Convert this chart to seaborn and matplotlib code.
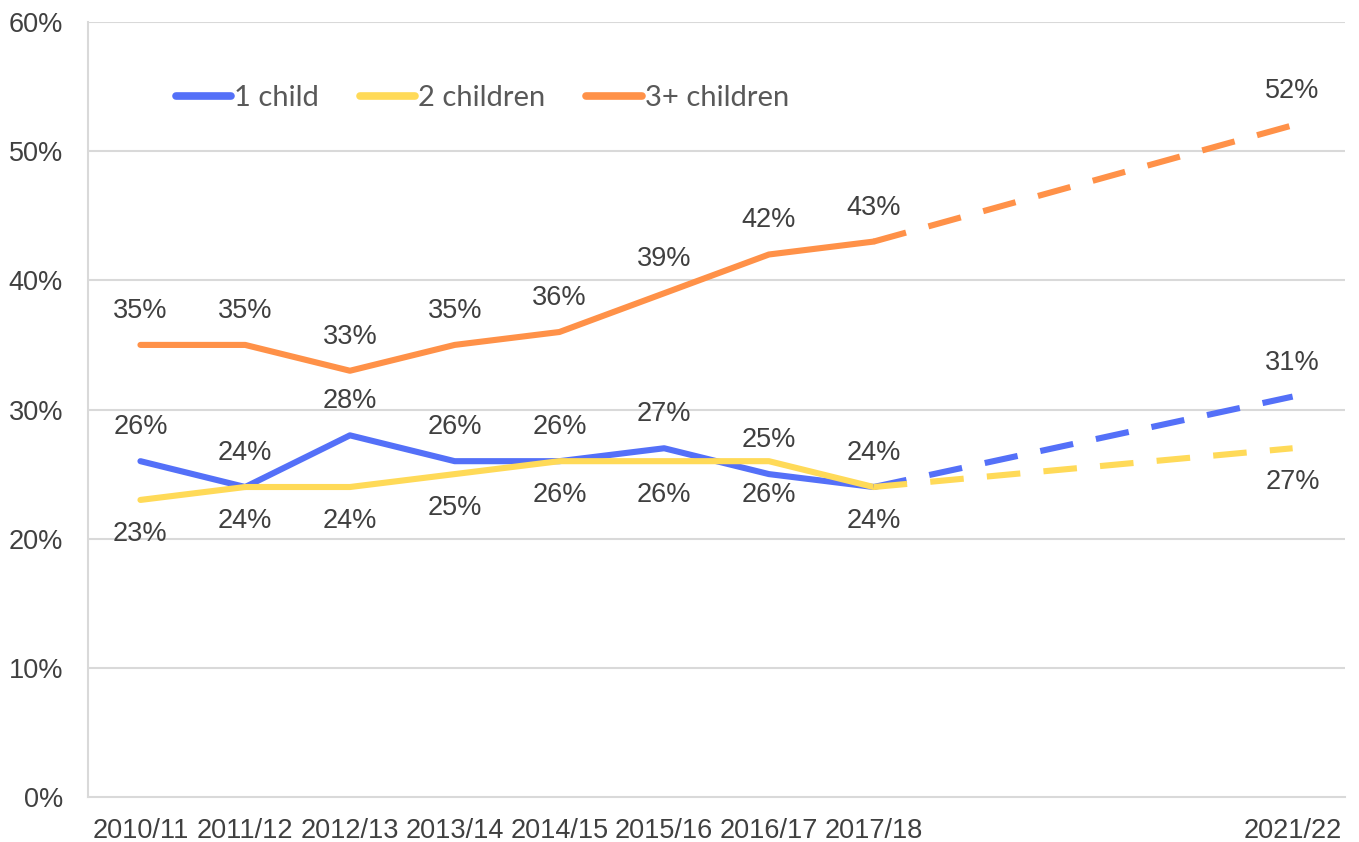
import pandas as pd
import matplotlib.pyplot as plt
import seaborn as sns

# observed years (start year of the financial year) and the projection year
years = [2010, 2011, 2012, 2013, 2014, 2015, 2016, 2017]
proj_years = [2017, 2021]

series = ["1 child", "2 children", "3+ children"]
one_child = [26, 24, 28, 26, 26, 27, 25, 24]
two_children = [23, 24, 24, 25, 26, 26, 26, 24]
three_plus = [35, 35, 33, 35, 36, 39, 42, 43]

one_child_proj = [24, 31]
two_children_proj = [24, 27]
three_plus_proj = [43, 52]

# label above (+1) or below (-1) the line
label_side = {"1 child": 1, "2 children": -1, "3+ children": 1}

palette = {"1 child": "#5470F8", "2 children": "#FFDA58", "3+ children": "#FF9148"}

obs = pd.DataFrame({
    "year": years * 3,
    "value": one_child + two_children + three_plus,
    "series": [s for s in series for _ in years],
})
proj = pd.DataFrame({
    "year": proj_years * 3,
    "value": one_child_proj + two_children_proj + three_plus_proj,
    "series": [s for s in series for _ in proj_years],
})

sns.set_style("white")
plt.rcParams["font.family"] = ["Liberation Sans", "DejaVu Sans"]

fig = plt.figure(figsize=(13.59, 8.42), dpi=100)
ax = fig.add_axes([0.0648, 0.0534, 0.9249, 0.9205])

grid_c = "#D9D9D9"
for v in range(10, 61, 10):
    ax.axhline(v, color=grid_c, lw=1.5, zorder=0)

sns.lineplot(data=obs, x="year", y="value", hue="series", hue_order=series,
             palette=palette, linewidth=4.4, ax=ax, legend=True)
sns.lineplot(data=proj, x="year", y="value", hue="series", hue_order=series,
             palette=palette, linewidth=4.4, linestyle=(0, (5.5, 3.8)),
             dash_capstyle="butt", ax=ax, legend=False)

lab_c = "#404040"
for df in (obs, proj):
    for _, r in df.iterrows():
        if df is proj and r["year"] == 2017:
            continue
        side = label_side[r["series"]]
        ax.annotate(f"{r['value']}%", (r["year"], r["value"]),
                    xytext=(0, 24.5 * side), textcoords="offset points",
                    ha="center", va="center", fontsize=19.5, color=lab_c)

ax.set_xlim(2009.5, 2021.5)
ax.set_ylim(0, 60)
tick_years = years + [2021]
ax.set_xticks(tick_years)
ax.set_xticklabels([f"{y}/{(y + 1) % 100:02d}" for y in tick_years])
ax.set_yticks(range(0, 61, 10))
ax.set_yticklabels([f"{v}%" for v in range(0, 61, 10)])
ax.tick_params(axis="x", length=0, pad=15, labelsize=19.5, labelcolor="#404040")
ax.tick_params(axis="y", length=0, pad=18, labelsize=19.5, labelcolor="#404040")
ax.set_xlabel("")
ax.set_ylabel("")

for s in ["top", "right"]:
    ax.spines[s].set_visible(False)
for s in ["left", "bottom"]:
    ax.spines[s].set_color(grid_c)
    ax.spines[s].set_linewidth(1.5)

handles, labels = ax.get_legend_handles_labels()
for h in handles:
    h.set_linewidth(5.5)
    h.set_solid_capstyle("round")
leg = ax.legend(handles, labels, ncol=3, loc="upper left", bbox_to_anchor=(0.049, 0.952),
                frameon=False, handlelength=1.9, handletextpad=0.1, columnspacing=1.4,
                prop={"family": ["Lato", "DejaVu Sans"], "size": 21})
for t in leg.get_texts():
    t.set_color("#595959")

fig.savefig("out.png", dpi=100)
